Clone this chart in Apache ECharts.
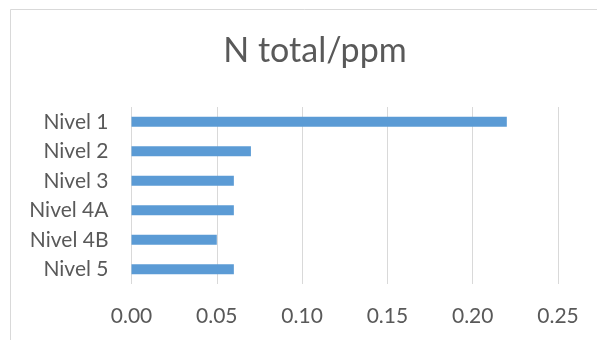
<!DOCTYPE html>
<html><head><meta charset="utf-8">
<script src="https://cdn.jsdelivr.net/npm/echarts@6/dist/echarts.min.js"></script>
<style>html,body{margin:0;padding:0;background:#fff}#c{width:597px;height:340px}</style>
</head><body><div id="c"></div>
<script>
var categories = ["Nivel 1", "Nivel 2", "Nivel 3", "Nivel 4A", "Nivel 4B", "Nivel 5"];
var values = [0.22, 0.07, 0.06, 0.06, 0.05, 0.06];
var xTicks = [0, 0.05, 0.10, 0.15, 0.20, 0.25];
var titleText = "N total/ppm";

var chart = echarts.init(document.getElementById('c'), null, {renderer: 'canvas'});
var font = "Lato, 'Open Sans', sans-serif";
chart.setOption({
  animation: false,
  backgroundColor: '#fff',
  graphic: [{
    type: 'rect', shape: {x: 10.5, y: 9.5, width: 620, height: 360},
    style: {fill: 'none', stroke: '#d9d9d9', lineWidth: 1}, silent: true
  }],
  title: {
    text: titleText, left: 310, textAlign: 'center', top: 29,
    textStyle: {fontFamily: font, fontSize: 34, fontWeight: 'normal', color: '#595959'}
  },
  grid: {left: 131.5, right: 39, top: 107, bottom: 56, containLabel: false},
  xAxis: {
    type: 'value', min: xTicks[0], max: xTicks[xTicks.length - 1], interval: 0.05,
    axisLine: {show: false}, axisTick: {show: false},
    splitLine: {show: true, lineStyle: {color: '#d9d9d9', width: 1}},
    axisLabel: {margin: 22, fontFamily: font, fontSize: 21, color: '#595959',
      formatter: function (v) { return v.toFixed(2); }}
  },
  yAxis: {
    type: 'category', data: categories, inverse: true,
    axisLine: {show: false}, axisTick: {show: false},
    axisLabel: {margin: 23, fontFamily: font, fontSize: 21, color: '#595959'}
  },
  series: [{
    type: 'bar', data: values, barWidth: 10,
    itemStyle: {color: '#5b9bd5'}
  }]
});
</script></body></html>
